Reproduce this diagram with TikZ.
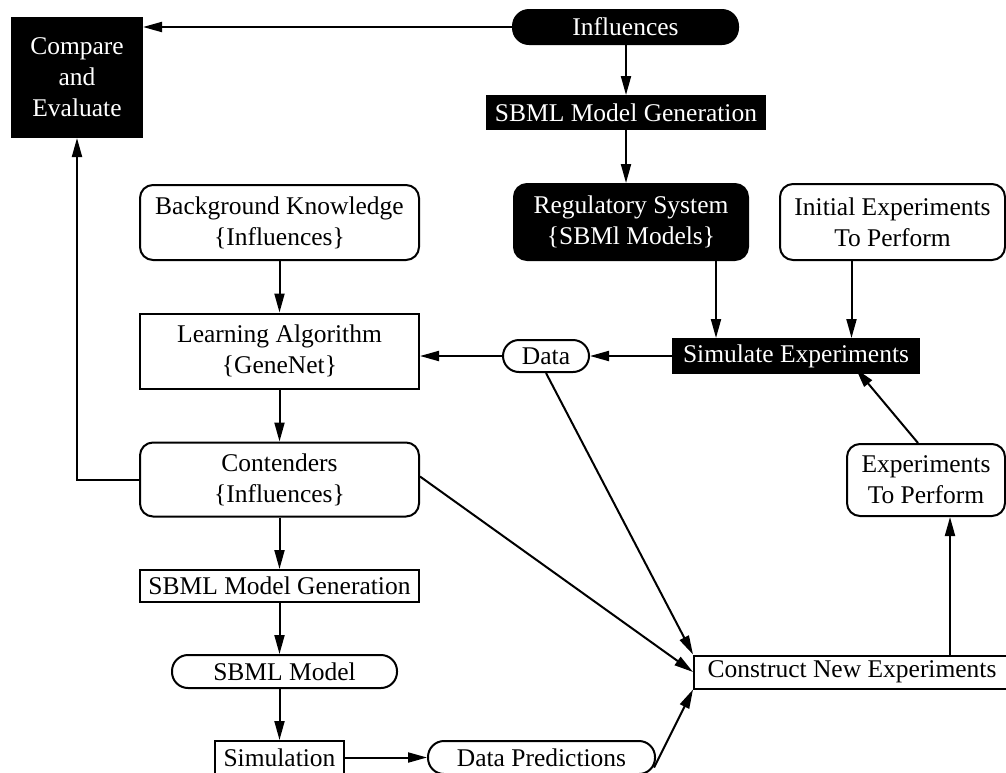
\documentclass[tikz,border=0pt]{standalone}
\usepackage{fontspec}
\setmainfont{Liberation Serif}
\usetikzlibrary{arrows.meta}
\begin{document}
\begin{tikzpicture}[x=1pt,y=-1pt,
  every node/.style={font=\fontsize{25.5}{31}\selectfont, inner sep=0pt, align=center, line width=2pt},
  sqbox/.style={rectangle, draw=black, fill=white},
  rbox/.style={rectangle, rounded corners=13pt, draw=black, fill=white},
  pill/.style={rectangle, rounded corners=16pt, draw=black, fill=white},
  dark/.style={fill=black, text=white},
  arr/.style={line width=2pt, -{Triangle[length=19pt,width=10pt]}}]
\useasboundingbox (0,0) rectangle (1006,772);
\clip (0,0) rectangle (1006,772);

% top row
\node[sqbox, dark, minimum width=130, minimum height=119] (cmp) at (77,77.5) {Compare\\and\\Evaluate};
\node[pill, dark, minimum width=225, minimum height=34] (infl) at (625.5,27) {Influences};
\node[sqbox, dark, minimum width=278, minimum height=33] (gen1) at (626,112.5) {SBML Model Generation};

% system under study
\node[rbox, dark, minimum width=234, minimum height=76] (reg) at (631,222) {Regulatory System\\\{SBMl Models\}};
\node[rbox, minimum width=225, minimum height=76] (init) at (892.5,222) {Initial Experiments\\To Perform};
\node[sqbox, dark, minimum width=246, minimum height=34] (sim) at (796,356) {Simulate Experiments};
\node[pill, minimum width=86, minimum height=32] (data) at (546,356) {Data};

% learning column
\node[rbox, minimum width=279, minimum height=75] (bk) at (279.5,222.5) {Background Knowledge\\\{Influences\}};
\node[sqbox, minimum width=279, minimum height=75] (la) at (279.5,351) {Learning Algorithm\\\{GeneNet\}};
\node[rbox, minimum width=279, minimum height=74] (cont) at (279.5,479.5) {Contenders\\\{Influences\}};
\node[sqbox, minimum width=279, minimum height=32] (gen2) at (279.5,586) {SBML Model Generation};
\node[pill, minimum width=225, minimum height=33] (sbm) at (284.5,671.5) {SBML Model};
\node[sqbox, minimum width=129, minimum height=33] (simu) at (279.5,757.5) {Simulation};
\node[pill, minimum width=227, minimum height=33] (dp) at (541.5,757.5) {Data Predictions};

% experiment design
\node[sqbox, minimum width=316, minimum height=33] (cne) at (852,672) {Construct New Experiments};
\node[rbox, minimum width=158, minimum height=72] (etp) at (926,480) {Experiments\\To Perform};

% connectors
\draw[arr] (infl.west) -- (infl.west -| cmp.east);
\draw[arr] (infl.south -| gen1.south) -- (gen1.north);
\draw[arr] (gen1.south) -- (gen1.south |- reg.north);
\draw[arr] ([xshift=85]reg.south) -- ([xshift=85]reg.south |- sim.north);
\draw[arr] ([xshift=-41]init.south) -- ([xshift=-41]init.south |- sim.north);
\draw[arr] (sim.west) -- (data.east);
\draw[arr] (data.west) -- (data.west -| la.east);
\draw[arr] (bk.south) -- (la.north);
\draw[arr] (la.south) -- (cont.north);
\draw[arr] (cont.west) -| (cmp.south);
\draw[arr] (cont.south) -- (gen2.north);
\draw[arr] (gen2.south) -- (gen2.south |- sbm.north);
\draw[arr] (simu.north |- sbm.south) -- (simu.north);
\draw[arr] (simu.east |- dp.west) -- (dp.west);
\draw[arr] (data.south) -- (cne.north west);
\draw[arr] ([yshift=3]cont.east) -- (cne.west);
\draw[arr] ([xshift=-2,yshift=-10]dp.east) -- (cne.south west);
\draw[arr] ([xshift=98]cne.north) -- ([xshift=98]cne.north |- etp.south);
\draw[arr] ([xshift=-8]etp.north) -- ([xshift=60,yshift=5]sim.south);
\end{tikzpicture}
\end{document}
